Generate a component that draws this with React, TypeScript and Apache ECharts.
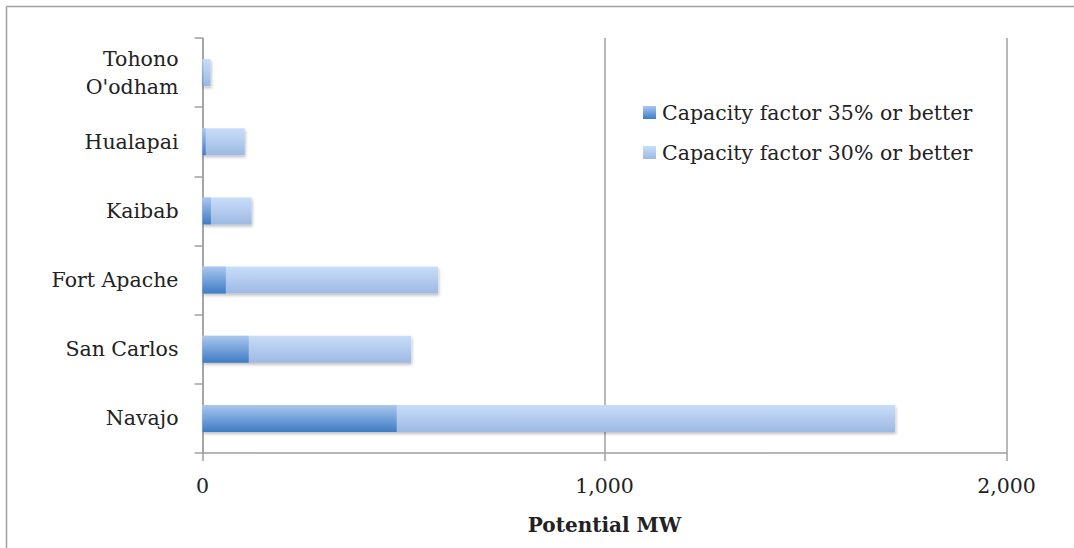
import React, { useEffect, useRef } from "react";
import * as echarts from "echarts";

const categories = ["Navajo", "San Carlos", "Fort Apache", "Kaibab", "Hualapai", "Tohono\nO'odham"];
const cf35 = [483, 115, 58, 21, 8, 2];
const cf30 = [1723, 519, 586, 122, 105, 20];
const seriesNames = ["Capacity factor 35% or better", "Capacity factor 30% or better"];
const xTicks = [0, 1000, 2000];

const FONT = "DejaVu Serif";

export default function App() {
  const ref = useRef<HTMLDivElement>(null);
  useEffect(() => {
    if (!ref.current) return;
    const chart = echarts.init(ref.current, undefined, { renderer: "svg" });
    const darkGrad = new echarts.graphic.LinearGradient(0, 0, 0, 1, [
      { offset: 0, color: "#a9c7ef" },
      { offset: 1, color: "#3f7cc4" },
    ]);
    const lightGrad = new echarts.graphic.LinearGradient(0, 0, 0, 1, [
      { offset: 0, color: "#c9ddf9" },
      { offset: 1, color: "#9db9e2" },
    ]);
    chart.setOption({
      animation: false,
      backgroundColor: "#ffffff",
      textStyle: { fontFamily: FONT },
      graphic: [
        { type: "line", shape: { x1: 6.5, y1: 6.5, x2: 1074, y2: 6.5 }, style: { stroke: "#a0a0a0", lineWidth: 1.5 } },
        { type: "line", shape: { x1: 6.5, y1: 6.5, x2: 6.5, y2: 548 }, style: { stroke: "#a0a0a0", lineWidth: 1.5 } },
      ],
      grid: { left: 202.5, top: 38, right: 67.5, bottom: 95, containLabel: false },
      legend: {
        orient: "vertical",
        left: 638,
        top: 97,
        data: [seriesNames[0], seriesNames[1]],
        icon: "rect",
        itemWidth: 13,
        itemHeight: 13,
        itemGap: 19,
        textStyle: { fontFamily: FONT, fontSize: 20.5, color: "#222222", padding: [0, 0, 0, 1] },
      },
      xAxis: {
        type: "value",
        min: xTicks[0],
        max: xTicks[xTicks.length - 1],
        interval: 1000,
        name: "Potential MW",
        nameLocation: "middle",
        nameGap: 62,
        nameTextStyle: { fontFamily: FONT, fontSize: 20, fontWeight: "bold", color: "#222222" },
        axisLine: { show: true, lineStyle: { color: "#a0a0a0", width: 1.5 } },
        axisTick: { show: true, length: 8, lineStyle: { color: "#a0a0a0", width: 1.5 } },
        axisLabel: {
          fontFamily: FONT,
          fontSize: 20.5,
          color: "#222222",
          margin: 22,
          formatter: (v: number) => v.toLocaleString("en-US"),
        },
        splitLine: { show: true, lineStyle: { color: "#a0a0a0", width: 1.5 } },
      },
      yAxis: {
        type: "category",
        data: categories,
        axisLine: { show: true, lineStyle: { color: "#a0a0a0", width: 1.5 } },
        axisTick: { show: true, length: 8, lineStyle: { color: "#a0a0a0", width: 1.5 } },
        axisLabel: {
          fontFamily: FONT,
          fontSize: 20.5,
          color: "#222222",
          margin: 24,
          lineHeight: 28,
          align: "right",
        },
      },
      series: [
        {
          name: seriesNames[1],
          type: "bar",
          data: cf30,
          barWidth: 27,
          barGap: "-100%",
          z: 2,
          itemStyle: {
            color: lightGrad,
            shadowBlur: 3,
            shadowOffsetY: 2,
            shadowOffsetX: 1,
            shadowColor: "rgba(0,0,0,0.25)",
          },
        },
        {
          name: seriesNames[0],
          type: "bar",
          data: cf35,
          barWidth: 27,
          barGap: "-100%",
          z: 3,
          itemStyle: { color: darkGrad },
        },
      ],
    });
    return () => chart.dispose();
  }, []);
  return <div ref={ref} style={{ position: "absolute", left: 0, top: 0, width: 1074, height: 548 }} />;
}
